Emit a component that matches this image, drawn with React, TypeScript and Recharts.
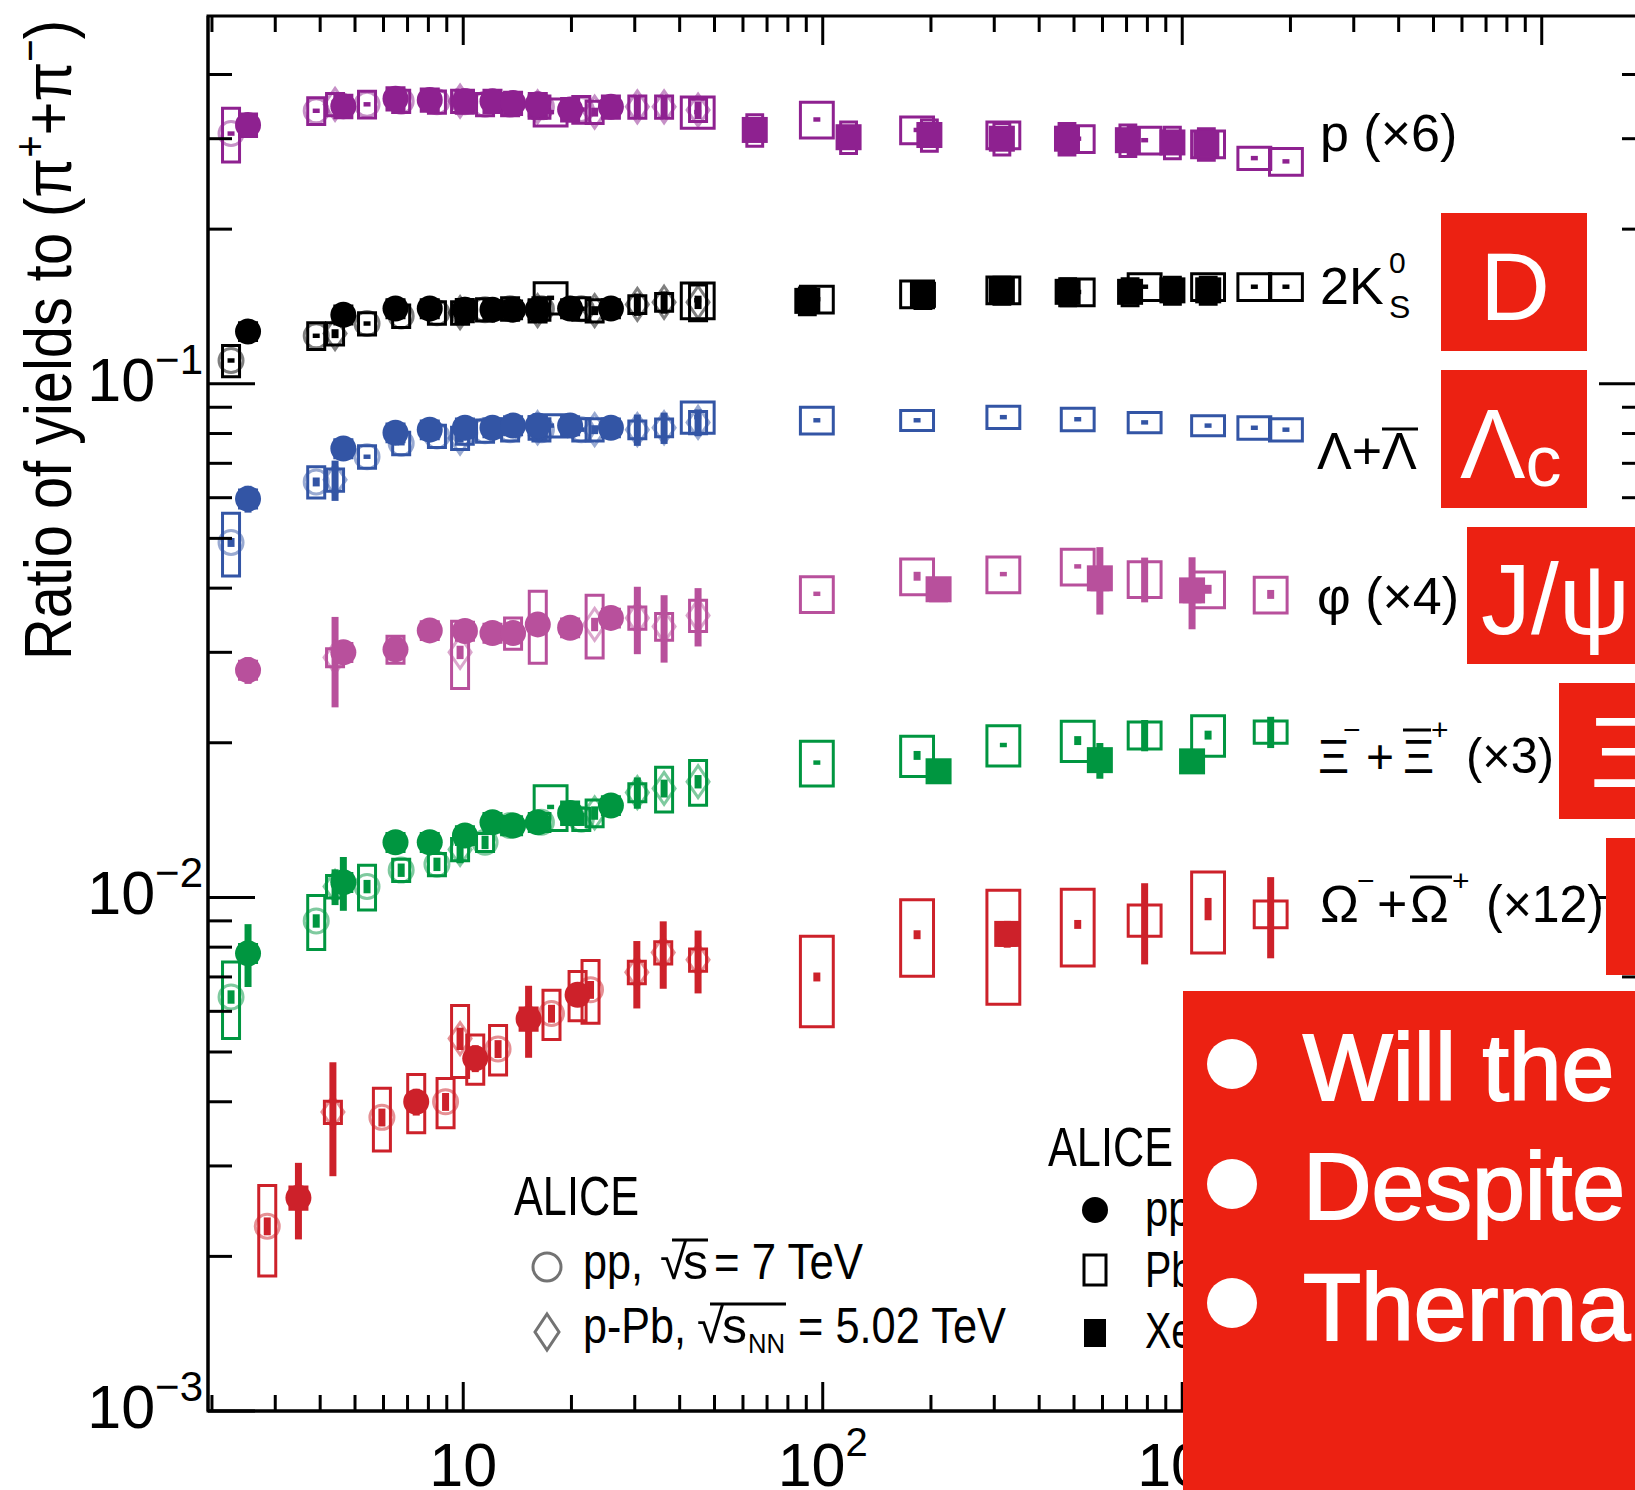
import React from "react";
import { ErrorBar, ReferenceArea, Scatter, ScatterChart, XAxis, YAxis } from "recharts";

// [dN/deta, ratio, stat (relative), syst (relative)]
type Point = [number, number, number, number];

const X_DOMAIN: [number, number] = [1.95, 19500];
const Y_DOMAIN: [number, number] = [0.001, 0.52];
const X_TICKS = [
  2, 3, 4, 5, 6, 7, 8, 9, 10, 20, 30, 40, 50, 60, 70, 80, 90, 100, 200, 300, 400, 500, 600, 700, 800,
  900, 1000, 2000, 3000, 4000, 5000, 6000, 7000, 8000, 9000, 10000,
];
const Y_TICKS = [
  0.001, 0.002, 0.003, 0.004, 0.005, 0.006, 0.007, 0.008, 0.009, 0.01, 0.02, 0.03, 0.04, 0.05, 0.06,
  0.07, 0.08, 0.09, 0.1, 0.2, 0.3, 0.4,
];
const X_TICK_EXP: Record<string, string> = { "10": "", "100": "2", "1000": "3", "10000": "4" };
const Y_TICK_EXP: Record<string, string> = { "0.001": "\u22123", "0.01": "\u22122", "0.1": "\u22121" };

// protons (x6)
const P_PP7: Point[] = [
  [2.26, 0.307, 0.01, 0.12], [3.9, 0.34, 0.01, 0.06], [5.4, 0.35, 0.01, 0.06], [6.72, 0.355, 0.01, 0.05],
  [8.45, 0.354, 0.01, 0.05], [10.1, 0.354, 0.01, 0.05], [11.5, 0.35, 0.01, 0.05], [13.5, 0.35, 0.01, 0.05],
  [16.5, 0.346, 0.01, 0.05], [21.3, 0.342, 0.01, 0.06],
];
const P_PP13: Point[] = [
  [2.52, 0.319, 0.01, 0.05], [4.64, 0.347, 0.01, 0.05], [6.48, 0.359, 0.01, 0.05], [8.07, 0.357, 0.01, 0.05],
  [10.11, 0.355, 0.01, 0.05], [12.06, 0.355, 0.01, 0.05], [13.76, 0.352, 0.01, 0.05], [16.12, 0.35, 0.01, 0.05],
  [19.83, 0.342, 0.01, 0.05], [25.75, 0.346, 0.01, 0.05],
];
const P_PPB: Point[] = [
  [4.4, 0.35, 0.02, 0.05], [9.8, 0.355, 0.02, 0.05], [16.1, 0.346, 0.02, 0.05], [23.2, 0.338, 0.02, 0.05],
  [30.5, 0.346, 0.05, 0.05], [36.2, 0.346, 0.05, 0.05], [45.0, 0.341, 0.04, 0.05],
];
const P_PBPB: Point[] = [
  [17.5, 0.338, 0.01, 0.06], [44.9, 0.338, 0.01, 0.07], [96.3, 0.327, 0.01, 0.08], [183, 0.312, 0.01, 0.06],
  [318, 0.305, 0.01, 0.06], [512, 0.3, 0.01, 0.06], [786, 0.298, 0.01, 0.06], [1180, 0.293, 0.01, 0.06],
  [1587, 0.275, 0.01, 0.05], [1943, 0.271, 0.01, 0.06],
];
const P_XEXE: Point[] = [
  [64.7, 0.312, 0.02, 0.07], [118, 0.302, 0.02, 0.07], [198, 0.305, 0.02, 0.07], [315, 0.3, 0.02, 0.07],
  [478, 0.3, 0.02, 0.07], [706, 0.298, 0.02, 0.07], [939, 0.295, 0.02, 0.07], [1167, 0.293, 0.02, 0.07],
];

// 2 K0s
const K_PP7: Point[] = [
  [2.26, 0.111, 0.01, 0.07], [3.9, 0.124, 0.01, 0.06], [5.4, 0.131, 0.01, 0.05], [6.72, 0.1355, 0.01, 0.05],
  [8.45, 0.1375, 0.01, 0.05], [10.1, 0.139, 0.01, 0.05], [11.5, 0.1394, 0.01, 0.05], [13.5, 0.14, 0.01, 0.05],
  [16.5, 0.14, 0.01, 0.05], [21.3, 0.14, 0.01, 0.05],
];
const K_PP13: Point[] = [
  [2.52, 0.1264, 0.01, 0.04], [4.64, 0.1362, 0.01, 0.04], [6.48, 0.1401, 0.01, 0.04], [8.07, 0.1401, 0.01, 0.04],
  [10.11, 0.1394, 0.01, 0.04], [12.06, 0.1394, 0.01, 0.04], [13.76, 0.1394, 0.01, 0.04], [16.12, 0.1394, 0.01, 0.04],
  [19.83, 0.1401, 0.01, 0.04], [25.75, 0.1401, 0.01, 0.04],
];
const K_PPB: Point[] = [
  [4.4, 0.1252, 0.02, 0.05], [9.8, 0.1375, 0.02, 0.05], [16.1, 0.1388, 0.02, 0.05], [23.2, 0.1388, 0.02, 0.05],
  [30.5, 0.1427, 0.05, 0.04], [36.2, 0.1441, 0.05, 0.04], [45.0, 0.1441, 0.03, 0.08],
];
const K_PBPB: Point[] = [
  [17.5, 0.147, 0.01, 0.07], [44.9, 0.1454, 0.01, 0.08], [96.3, 0.1461, 0.01, 0.06], [183, 0.1495, 0.01, 0.06],
  [318, 0.1523, 0.01, 0.06], [512, 0.1509, 0.01, 0.06], [786, 0.1545, 0.01, 0.06], [1180, 0.1545, 0.01, 0.06],
  [1587, 0.1545, 0.01, 0.06], [1943, 0.1545, 0.01, 0.06],
];
const K_XEXE: Point[] = [
  [90.6, 0.145, 0.02, 0.06], [190, 0.149, 0.02, 0.06], [315, 0.152, 0.02, 0.06], [480, 0.151, 0.02, 0.06],
  [716, 0.151, 0.02, 0.06], [939, 0.152, 0.02, 0.06], [1181, 0.152, 0.02, 0.06],
];

// Lambda + anti-Lambda
const L_PP7: Point[] = [
  [2.26, 0.0491, 0.02, 0.14], [3.9, 0.0644, 0.02, 0.07], [5.4, 0.0721, 0.01, 0.05], [6.72, 0.0766, 0.01, 0.05],
  [8.45, 0.0791, 0.01, 0.05], [10.1, 0.0803, 0.01, 0.05], [11.5, 0.081, 0.01, 0.05], [13.5, 0.0814, 0.01, 0.05],
  [16.5, 0.0814, 0.01, 0.05], [21.3, 0.0814, 0.01, 0.05],
];
const L_PP13: Point[] = [
  [2.52, 0.0597, 0.06, 0.04], [4.64, 0.0748, 0.04, 0.04], [6.48, 0.0803, 0.02, 0.04], [8.07, 0.0814, 0.02, 0.04],
  [10.11, 0.0821, 0.02, 0.04], [12.06, 0.0821, 0.02, 0.04], [13.76, 0.0829, 0.02, 0.04], [16.12, 0.0829, 0.02, 0.04],
  [19.83, 0.0829, 0.02, 0.04], [25.75, 0.0821, 0.02, 0.04],
];
const L_PPB: Point[] = [
  [4.4, 0.065, 0.09, 0.05], [9.8, 0.0784, 0.02, 0.05], [16.1, 0.0821, 0.02, 0.05], [23.2, 0.0814, 0.02, 0.05],
  [30.5, 0.0814, 0.07, 0.04], [36.2, 0.0821, 0.07, 0.04], [45.0, 0.0841, 0.06, 0.05],
];
const L_PBPB: Point[] = [
  [17.5, 0.0829, 0.01, 0.05], [44.9, 0.0861, 0.01, 0.07], [96.3, 0.0849, 0.01, 0.06], [183, 0.0849, 0.01, 0.045],
  [318, 0.0861, 0.01, 0.05], [512, 0.0853, 0.01, 0.05], [786, 0.0841, 0.01, 0.045], [1180, 0.0829, 0.01, 0.045],
  [1587, 0.0821, 0.01, 0.05], [1943, 0.0814, 0.01, 0.05],
];

// phi (x4)
const PHI_PP13: Point[] = [
  [2.52, 0.0277, 0.06, 0.04], [4.64, 0.03, 0.05, 0.04], [6.48, 0.0304, 0.04, 0.06], [8.07, 0.0331, 0.04, 0.04],
  [10.11, 0.033, 0.04, 0.04], [12.06, 0.0327, 0.04, 0.04], [13.76, 0.0327, 0.04, 0.07], [16.12, 0.034, 0.04, 0.16],
  [19.83, 0.0335, 0.04, 0.04], [25.75, 0.035, 0.04, 0.04],
];
const PHI_PPB: Point[] = [
  [4.4, 0.0293, 0.2, 0.04], [9.8, 0.03, 0.03, 0.15], [23.2, 0.034, 0.03, 0.14], [30.5, 0.035, 0.15, 0.05],
  [36.2, 0.0337, 0.15, 0.06], [45.0, 0.0354, 0.13, 0.07],
];
const PHI_PBPB: Point[] = [
  [96.3, 0.039, 0.01, 0.08], [183, 0.0422, 0.02, 0.08], [318, 0.0426, 0.01, 0.08], [512, 0.0441, 0.01, 0.08],
  [786, 0.0417, 0.1, 0.08], [1180, 0.0398, 0.02, 0.08], [1762, 0.0389, 0.02, 0.08],
];
const PHI_XEXE: Point[] = [[210, 0.0398, 0.05, 0.05], [590, 0.0418, 0.15, 0.05], [1065, 0.0396, 0.16, 0.05]];

// Xi (x3)
const XI_PP7: Point[] = [
  [2.26, 0.0064, 0.03, 0.17], [3.9, 0.009, 0.03, 0.12], [5.4, 0.0105, 0.03, 0.1], [6.72, 0.0113, 0.03, 0.05],
  [8.45, 0.0116, 0.03, 0.05], [11.5, 0.0128, 0.03, 0.04], [13.5, 0.0138, 0.03, 0.04], [16.5, 0.014, 0.03, 0.04],
  [21.3, 0.0142, 0.03, 0.05],
];
const XI_PP13: Point[] = [
  [2.52, 0.00778, 0.14, 0.04], [4.64, 0.0107, 0.12, 0.04], [6.48, 0.0128, 0.04, 0.04], [8.07, 0.0128, 0.04, 0.04],
  [10.11, 0.0132, 0.04, 0.04], [12.06, 0.014, 0.04, 0.04], [13.76, 0.0138, 0.04, 0.04], [16.12, 0.014, 0.04, 0.04],
  [19.83, 0.0146, 0.04, 0.05], [25.75, 0.0151, 0.04, 0.04],
];
const XI_PPB: Point[] = [
  [4.4, 0.0105, 0.08, 0.05], [9.8, 0.0124, 0.06, 0.05], [23.2, 0.0146, 0.03, 0.06], [30.5, 0.016, 0.07, 0.04],
  [36.2, 0.0163, 0.04, 0.1], [45.0, 0.0168, 0.03, 0.1],
];
const XI_PBPB: Point[] = [
  [17.5, 0.015, 0.01, 0.1], [96.3, 0.0183, 0.01, 0.1], [183, 0.0189, 0.02, 0.09], [318, 0.0198, 0.01, 0.09],
  [512, 0.0202, 0.02, 0.09], [786, 0.0207, 0.07, 0.06], [1180, 0.0207, 0.02, 0.09], [1762, 0.021, 0.07, 0.05],
];
const XI_XEXE: Point[] = [[210, 0.0176, 0.05, 0.04], [590, 0.0185, 0.08, 0.04], [1065, 0.0184, 0.05, 0.04]];

// Omega (x12)
const OM_PP7: Point[] = [
  [2.85, 0.00229, 0.04, 0.2], [5.94, 0.00373, 0.04, 0.14], [8.93, 0.004, 0.04, 0.11], [12.5, 0.00507, 0.04, 0.11],
  [17.6, 0.00594, 0.04, 0.11], [22.6, 0.00661, 0.04, 0.14],
];
const OM_PP13: Point[] = [
  [3.48, 0.0026, 0.17, 0.05], [7.4, 0.004, 0.06, 0.13], [10.8, 0.00486, 0.06, 0.11], [15.2, 0.0058, 0.16, 0.05],
  [20.8, 0.00646, 0.05, 0.11],
];
const OM_PPB: Point[] = [
  [4.34, 0.00382, 0.25, 0.05], [9.8, 0.00531, 0.05, 0.16], [30.4, 0.00715, 0.15, 0.05], [36.0, 0.00781, 0.15, 0.05],
  [45.0, 0.00756, 0.14, 0.05],
];
const OM_PBPB: Point[] = [
  [96.3, 0.007, 0.02, 0.2], [183, 0.00846, 0.02, 0.17], [318, 0.00826, 0.02, 0.25], [512, 0.00886, 0.02, 0.17],
  [786, 0.00903, 0.18, 0.07], [1180, 0.0095, 0.05, 0.18], [1762, 0.00928, 0.18, 0.06],
];
const OM_XEXE: Point[] = [[326, 0.00849, 0.06, 0.05]];

const C_P = "#8e2190";
const C_K = "#000000";
const C_L = "#3355a5";
const C_PHI = "#b8509c";
const C_XI = "#009640";
const C_OM = "#cd212a";

type System = "pp7" | "pp13" | "pPb" | "PbPb" | "XeXe";
const BOX_K: Record<System, number> = { pp7: 1.056, pp13: 1.056, pPb: 1.056, PbPb: 1.111, XeXe: 1.052 };

const SERIES: { key: string; color: string; system: System; points: Point[] }[] = [
  { key: "p-pbpb", color: C_P, system: "PbPb", points: P_PBPB },
  { key: "p-pp7", color: C_P, system: "pp7", points: P_PP7 },
  { key: "p-ppb", color: C_P, system: "pPb", points: P_PPB },
  { key: "p-pp13", color: C_P, system: "pp13", points: P_PP13 },
  { key: "p-xexe", color: C_P, system: "XeXe", points: P_XEXE },
  { key: "k-pbpb", color: C_K, system: "PbPb", points: K_PBPB },
  { key: "k-pp7", color: C_K, system: "pp7", points: K_PP7 },
  { key: "k-ppb", color: C_K, system: "pPb", points: K_PPB },
  { key: "k-pp13", color: C_K, system: "pp13", points: K_PP13 },
  { key: "k-xexe", color: C_K, system: "XeXe", points: K_XEXE },
  { key: "l-pbpb", color: C_L, system: "PbPb", points: L_PBPB },
  { key: "l-pp7", color: C_L, system: "pp7", points: L_PP7 },
  { key: "l-ppb", color: C_L, system: "pPb", points: L_PPB },
  { key: "l-pp13", color: C_L, system: "pp13", points: L_PP13 },
  { key: "phi-pbpb", color: C_PHI, system: "PbPb", points: PHI_PBPB },
  { key: "phi-ppb", color: C_PHI, system: "pPb", points: PHI_PPB },
  { key: "phi-pp13", color: C_PHI, system: "pp13", points: PHI_PP13 },
  { key: "phi-xexe", color: C_PHI, system: "XeXe", points: PHI_XEXE },
  { key: "xi-pbpb", color: C_XI, system: "PbPb", points: XI_PBPB },
  { key: "xi-pp7", color: C_XI, system: "pp7", points: XI_PP7 },
  { key: "xi-ppb", color: C_XI, system: "pPb", points: XI_PPB },
  { key: "xi-pp13", color: C_XI, system: "pp13", points: XI_PP13 },
  { key: "xi-xexe", color: C_XI, system: "XeXe", points: XI_XEXE },
  { key: "om-pbpb", color: C_OM, system: "PbPb", points: OM_PBPB },
  { key: "om-pp7", color: C_OM, system: "pp7", points: OM_PP7 },
  { key: "om-ppb", color: C_OM, system: "pPb", points: OM_PPB },
  { key: "om-pp13", color: C_OM, system: "pp13", points: OM_PP13 },
  { key: "om-xexe", color: C_OM, system: "XeXe", points: OM_XEXE },
];

const FONT = '"Liberation Sans", Arial, Helvetica, sans-serif';
const RED = "#ec2112";
const CHART_W = 1680;
const CHART_H = 1490;
// axes get 1px of room each (an axis of size 0 is not drawn at all)
const MARGIN = { top: 16, right: 34, bottom: 78, left: 207 };
const PLOT_W = CHART_W - MARGIN.left - 1 - MARGIN.right;
const PLOT_H = CHART_H - MARGIN.top - MARGIN.bottom - 1;

const isDecade = (v: number) => Math.abs(Math.log10(v) - Math.round(Math.log10(v))) < 1e-6;

function XTick(props: any) {
  const { x, y, payload } = props;
  const v = payload.value;
  const major = isDecade(v);
  const len = major ? 29 : 16;
  const top = y - PLOT_H;
  const exp = X_TICK_EXP[String(v)];
  return (
    <g>
      <line x1={x} x2={x} y1={y} y2={y - len} stroke="#000" strokeWidth={3} />
      <line x1={x} x2={x} y1={top} y2={top + len} stroke="#000" strokeWidth={3} />
      {exp !== undefined && (
        <text x={x} y={y + 75} textAnchor="middle" fontSize={61} fontFamily={FONT} fill="#000">
          10
          {exp && (
            <tspan dy={-30} fontSize={40}>
              {exp}
            </tspan>
          )}
        </text>
      )}
    </g>
  );
}

function YTick(props: any) {
  const { x, y, payload } = props;
  const v = payload.value;
  const major = isDecade(v);
  const len = major ? 47 : 24;
  const right = x + PLOT_W;
  const exp = Y_TICK_EXP[String(v)];
  return (
    <g>
      <line x1={x} x2={x + len} y1={y} y2={y} stroke="#000" strokeWidth={3} />
      <line x1={right} x2={right - len} y1={y} y2={y} stroke="#000" strokeWidth={3} />
      {exp && (
        <text x={x - 5} y={y + 17} textAnchor="end" fontSize={61} fontFamily={FONT} fill="#000">
          10
          <tspan dy={-27} fontSize={42}>
            {exp}
          </tspan>
        </text>
      )}
    </g>
  );
}

function makeShape(system: System, color: string) {
  return (props: any) => {
    const { cx, cy } = props;
    if (typeof cx !== "number" || typeof cy !== "number") return <g />;
    if (system === "pp13") return <circle cx={cx} cy={cy} r={13} fill={color} />;
    if (system === "pp7")
      return <circle cx={cx} cy={cy} r={12} fill="none" stroke={color} strokeOpacity={0.5} strokeWidth={3} />;
    if (system === "pPb")
      return (
        <polygon
          points={`${cx},${cy - 16} ${cx + 11},${cy} ${cx},${cy + 16} ${cx - 11},${cy}`}
          fill="none"
          stroke={color}
          strokeOpacity={0.5}
          strokeWidth={3}
        />
      );
    if (system === "XeXe") return <rect x={cx - 13} y={cy - 13} width={26} height={26} fill={color} />;
    return <g />;
  };
}

const toRows = (points: Point[]) =>
  points.map(([x, y, stat]) => ({ x, y, err: [y * stat, y * stat] }));

export default function App() {
  const boxes = SERIES.flatMap((s) =>
    s.points.map(([x, y, , syst], i) => (
      <ReferenceArea
        key={`${s.key}-box-${i}`}
        x1={x / BOX_K[s.system]}
        x2={x * BOX_K[s.system]}
        y1={y * (1 - syst)}
        y2={y * (1 + syst)}
        fill="none"
        stroke={s.color}
        strokeWidth={3}
        ifOverflow="visible"
      />
    ))
  );

  const txt = { fontFamily: FONT, fill: "#000" };

  return (
    <div
      style={{
        position: "absolute",
        left: 0,
        top: 0,
        width: 1635,
        height: 1490,
        overflow: "hidden",
        background: "#fff",
      }}
    >
      <ScatterChart width={CHART_W} height={CHART_H} margin={MARGIN}>
        <XAxis
          type="number"
          dataKey="x"
          scale="log"
          domain={X_DOMAIN}
          allowDataOverflow
          ticks={X_TICKS}
          interval={0}
          height={1}
          tickSize={0}
          tickMargin={0}
          tickLine={false}
          tick={XTick}
          axisLine={{ stroke: "#000", strokeWidth: 3 }}
        />
        <YAxis
          type="number"
          dataKey="y"
          scale="log"
          domain={Y_DOMAIN}
          allowDataOverflow
          ticks={Y_TICKS}
          interval={0}
          width={1}
          tickSize={0}
          tickMargin={0}
          tickLine={false}
          tick={YTick}
          axisLine={{ stroke: "#000", strokeWidth: 3 }}
        />
        <ReferenceArea
          x1={X_DOMAIN[0]}
          x2={X_DOMAIN[1]}
          y1={Y_DOMAIN[0]}
          y2={Y_DOMAIN[1]}
          fill="none"
          stroke="#000"
          strokeWidth={3}
          ifOverflow="visible"
        />
        {boxes}
        {SERIES.map((s) => (
          <Scatter
            key={s.key}
            data={toRows(s.points)}
            dataKey="y"
            shape={makeShape(s.system, s.color)}
            isAnimationActive={false}
          >
            <ErrorBar
              dataKey="err"
              direction="y"
              width={0}
              stroke={s.color}
              strokeWidth={7}
              isAnimationActive={false}
            />
          </Scatter>
        ))}
      </ScatterChart>

      <svg
        width={1635}
        height={1490}
        style={{ position: "absolute", left: 0, top: 0, pointerEvents: "none" }}
      >
        {/* y-axis title */}
        <text
          transform="translate(71,660) rotate(-90)"
          fontSize={66}
          textLength={640}
          lengthAdjust="spacingAndGlyphs"
          {...txt}
        >
          Ratio of yields to (π
          <tspan dy={-26} fontSize={44}>
            +
          </tspan>
          <tspan dy={26}>+π</tspan>
          <tspan dy={-26} fontSize={44}>
            −
          </tspan>
          <tspan dy={26}>)</tspan>
        </text>

        {/* species labels */}
        <text x={1320} y={151} fontSize={52} {...txt}>
          p (×6)
        </text>
        <text x={1320} y={304} fontSize={52} {...txt}>
          2K
        </text>
        <text x={1389} y={273} fontSize={30} {...txt}>
          0
        </text>
        <text x={1389} y={318} fontSize={32} {...txt}>
          S
        </text>
        <text x={1317} y={469} fontSize={52} {...txt}>
          Λ+Λ
        </text>
        <line x1={1382} x2={1418} y1={429} y2={429} stroke="#000" strokeWidth={3} />
        <text x={1317} y={614} fontSize={52} {...txt}>
          φ (×4)
        </text>
        <text x={1318} y={773} fontSize={48} {...txt}>
          Ξ
        </text>
        <text x={1343} y={740} fontSize={30} {...txt}>
          −
        </text>
        <text x={1366} y={773} fontSize={48} {...txt}>
          +
        </text>
        <text x={1403} y={773} fontSize={48} {...txt}>
          Ξ
        </text>
        <line x1={1403} x2={1431} y1={730} y2={730} stroke="#000" strokeWidth={3} />
        <text x={1431} y={740} fontSize={30} {...txt}>
          +
        </text>
        <text x={1466} y={773} fontSize={50} textLength={88} lengthAdjust="spacingAndGlyphs" {...txt}>
          (×3)
        </text>
        <text x={1320} y={922} fontSize={52} {...txt}>
          Ω
        </text>
        <text x={1357} y={891} fontSize={30} {...txt}>
          −
        </text>
        <text x={1377} y={922} fontSize={52} {...txt}>
          +
        </text>
        <text x={1410} y={922} fontSize={52} {...txt}>
          Ω
        </text>
        <line x1={1410} x2={1452} y1={877} y2={877} stroke="#000" strokeWidth={3} />
        <text x={1452} y={891} fontSize={30} {...txt}>
          +
        </text>
        <text x={1486} y={922} fontSize={52} textLength={118} lengthAdjust="spacingAndGlyphs" {...txt}>
          (×12)
        </text>

        {/* legend 1 */}
        <text x={514} y={1215} fontSize={55} textLength={125} lengthAdjust="spacingAndGlyphs" {...txt}>
          ALICE
        </text>
        <circle cx={547} cy={1267} r={14} fill="none" stroke="#000" strokeOpacity={0.55} strokeWidth={3} />
        <text x={583} y={1279} fontSize={50} textLength={60} lengthAdjust="spacingAndGlyphs" {...txt}>
          pp,
        </text>
        <text x={660} y={1279} fontSize={50} {...txt}>
          √
        </text>
        <line x1={672} x2={708} y1={1240} y2={1240} stroke="#000" strokeWidth={3} />
        <text x={683} y={1279} fontSize={50} {...txt}>
          s
        </text>
        <text x={714} y={1279} fontSize={50} textLength={149} lengthAdjust="spacingAndGlyphs" {...txt}>
          = 7 TeV
        </text>
        <polygon
          points="547,1314 559,1332 547,1350 535,1332"
          fill="none"
          stroke="#000"
          strokeOpacity={0.55}
          strokeWidth={3}
        />
        <text x={583} y={1343} fontSize={50} textLength={103} lengthAdjust="spacingAndGlyphs" {...txt}>
          p-Pb,
        </text>
        <text x={697} y={1343} fontSize={50} {...txt}>
          √
        </text>
        <line x1={710} x2={786} y1={1304} y2={1304} stroke="#000" strokeWidth={3} />
        <text x={722} y={1343} fontSize={50} {...txt}>
          s
        </text>
        <text x={748} y={1353} fontSize={28} textLength={37} lengthAdjust="spacingAndGlyphs" {...txt}>
          NN
        </text>
        <text x={798} y={1343} fontSize={50} textLength={208} lengthAdjust="spacingAndGlyphs" {...txt}>
          = 5.02 TeV
        </text>

        {/* legend 2 (mostly hidden under the red panel) */}
        <text x={1048} y={1166} fontSize={55} textLength={125} lengthAdjust="spacingAndGlyphs" {...txt}>
          ALICE
        </text>
        <circle cx={1095} cy={1210} r={13} fill="#000" />
        <rect x={1084} y={1255} width={22} height={30} fill="none" stroke="#000" strokeWidth={3} />
        <rect x={1084} y={1319} width={22} height={28} fill="#000" />
        <text x={1145} y={1226} fontSize={50} textLength={290} lengthAdjust="spacingAndGlyphs" {...txt}>
          pp, √s = 13 TeV
        </text>
        <text x={1145} y={1287} fontSize={50} textLength={430} lengthAdjust="spacingAndGlyphs" {...txt}>
          Pb-Pb, √sNN = 5.02 TeV
        </text>
        <text x={1145} y={1348} fontSize={50} textLength={430} lengthAdjust="spacingAndGlyphs" {...txt}>
          Xe-Xe, √sNN = 5.44 TeV
        </text>

        {/* red annotation boxes */}
        <rect x={1441} y={213} width={146} height={138} fill={RED} />
        <text x={1515} y={320} textAnchor="middle" fontSize={97} fontFamily={FONT} fill="#fff">
          D
        </text>
        <rect x={1441} y={370} width={146} height={138} fill={RED} />
        <text x={1460} y={478} fontSize={98} fontFamily={FONT} fill="#fff">
          Λ
          <tspan fontSize={72} dy={8}>
            c
          </tspan>
        </text>
        <rect x={1467} y={527} width={200} height={137} fill={RED} />
        <text x={1481} y={634} fontSize={100} fontFamily={FONT} fill="#fff">
          J/ψ
        </text>
        <rect x={1559} y={683} width={100} height={136} fill={RED} />
        <text x={1590} y={787} fontSize={100} fontFamily={FONT} fill="#fff">
          Ξ
          <tspan fontSize={72} dy={8}>
            c
          </tspan>
        </text>
        <rect x={1606} y={838} width={60} height={137} fill={RED} />
        <rect x={1183} y={991} width={470} height={510} fill={RED} />
        <circle cx={1232} cy={1064} r={25} fill="#fff" />
        <circle cx={1232} cy={1184} r={25} fill="#fff" />
        <circle cx={1232} cy={1303} r={25} fill="#fff" />
        <g fontFamily={FONT} fontSize={95} fill="#fff" stroke="#fff" strokeWidth={2}>
          <text x={1303} y={1100}>
            Will the
          </text>
          <text x={1303} y={1219}>
            Despite
          </text>
          <text x={1303} y={1340}>
            Thermal
          </text>
        </g>
      </svg>
    </div>
  );
}
